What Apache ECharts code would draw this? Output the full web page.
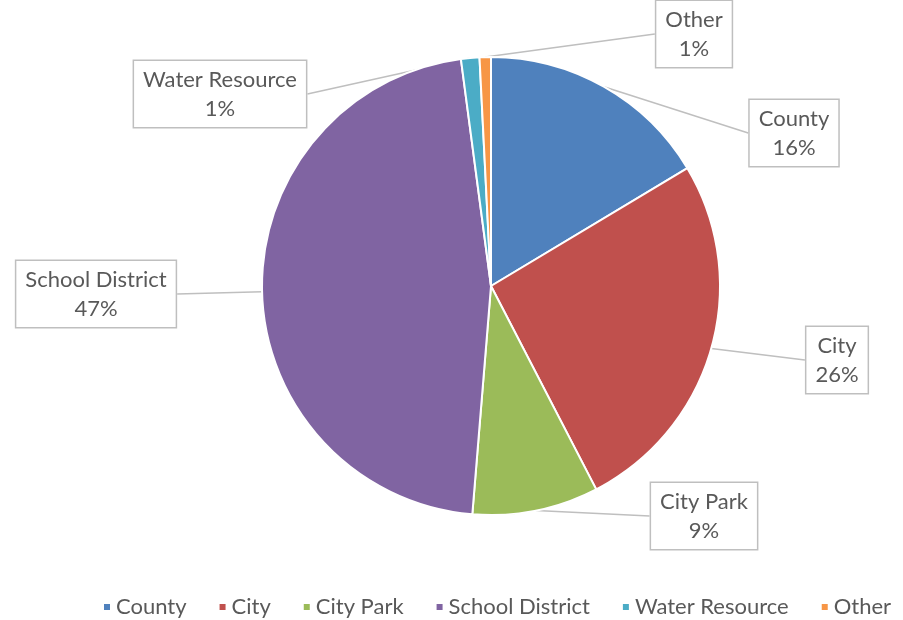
<!DOCTYPE html>
<html>
<head>
<meta charset="utf-8">
<script src="https://cdn.jsdelivr.net/npm/echarts@6/dist/echarts.min.js"></script>
<style>
  html, body { margin: 0; padding: 0; background: #ffffff; }
  #chart { width: 903px; height: 620px; }
</style>
</head>
<body>
<div id="chart"></div>
<script>
// Share of the levy by taxing district
const categories = ['County', 'City', 'City Park', 'School District', 'Water Resource', 'Other'];
const shares = [16.4, 26.0, 8.9, 46.6, 1.3, 0.8];

const palette = ['#4F81BD', '#C0504D', '#9BBB59', '#8064A2', '#4BACC6', '#F79646'];
// Where each callout box sits (box centre, px)
const calloutAt = [[794, 133], [837, 360], [704, 516], [96, 294], [220, 94], [694, 34]];

const textColor = '#595959';
const fontFamily = 'Lato, "Open Sans", sans-serif';

const chart = echarts.init(document.getElementById('chart'));
chart.setOption({
  animation: false,
  color: palette,
  legend: {
    top: 591,
    left: 97,
    icon: 'rect',
    itemWidth: 8,
    itemHeight: 8,
    itemGap: 31,
    textStyle: { color: textColor, fontSize: 22, fontFamily: fontFamily },
    data: categories
  },
  series: [{
    type: 'pie',
    center: [491, 286],
    radius: 229,
    startAngle: 90,
    clockwise: true,
    itemStyle: { borderColor: '#ffffff', borderWidth: 2 },
    label: {
      show: true,
      position: 'outside',
      formatter: function (p) { return p.name + '\n' + Math.round(p.percent) + '%'; },
      color: textColor,
      fontSize: 22,
      fontFamily: fontFamily,
      lineHeight: 29,
      align: 'center',
      backgroundColor: '#ffffff',
      borderColor: '#bfbfbf',
      borderWidth: 1.5,
      padding: [4, 9, 4, 9]
    },
    labelLine: {
      show: true,
      length: 10,
      length2: 0,
      lineStyle: { color: '#bfbfbf', width: 1.5 }
    },
    labelLayout: function (params) {
      const c = calloutAt[params.dataIndex];
      return { x: c[0], y: c[1], align: 'center', verticalAlign: 'middle' };
    },
    emphasis: { disabled: true },
    data: categories.map(function (name, i) { return { name: name, value: shares[i] }; })
  }]
});
</script>
</body>
</html>
